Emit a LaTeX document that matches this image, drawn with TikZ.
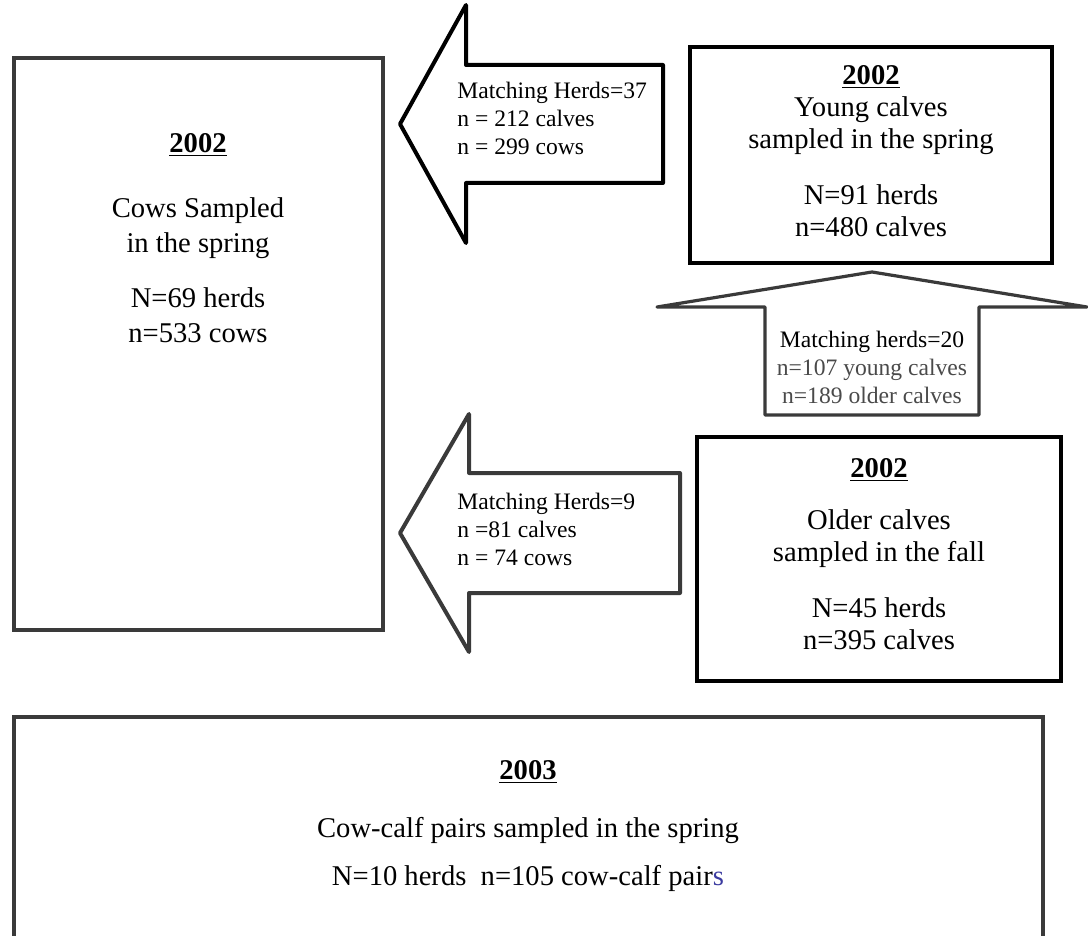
\documentclass[tikz,border=0pt]{standalone}
\usepackage{fontspec}
\setmainfont{Liberation Serif}
\definecolor{edgegray}{HTML}{3A3A3A}
\definecolor{labelgray}{HTML}{4A4A4A}
\definecolor{pairblue}{HTML}{3B3BA0}
\tikzset{
  samplebox/.style={line width=2pt, draw=black},
  blockarrow/.style={line width=2pt, draw=black, line join=round},
  boxtext/.style={align=center, inner sep=0pt, font=\fontsize{14.3}{16}\selectfont},
  arrowtext/.style={align=left, inner sep=0pt, font=\fontsize{11.8}{14}\selectfont}
}
\begin{document}
\begin{tikzpicture}[x=0.5pt, y=-0.5pt]
      \useasboundingbox (0,0) rectangle (1088,936);
      \draw[samplebox, draw=edgegray] (14,58) rectangle (383,630);
      \draw[samplebox] (690,47) rectangle (1052,263);
      \draw[samplebox] (697,437) rectangle (1061,681);
      \draw[samplebox, draw=edgegray] (14,940) -- (14,717) -- (1043,717) -- (1043,940);
      \begin{scope}[blockarrow]
        \draw (400,124) -- (466,5) -- (466,65) -- (663,65) -- (663,183) -- (466,183) -- (466,243) -- cycle;
        \draw[draw=edgegray] (400,533) -- (469,414) -- (469,473) -- (680,473) -- (680,593) -- (469,593) -- (469,652) -- cycle;
        \draw[draw=edgegray, line width=1.6pt] (872,272) -- (1087,307) -- (979,307) -- (979,415) -- (765,415) -- (765,307) -- (657,307) -- cycle;
      \end{scope}
      \node[boxtext, font=\fontsize{14.3}{17.5}\selectfont] (cows) at (198,238)
        {\underline{\textbf{2002}}\\[15pt] Cows Sampled\\ in the spring\\[10pt] N=69 herds\\ n=533 cows};
      \node[boxtext] (young) at (871,151)
        {\underline{\textbf{2002}}\\ Young calves\\ sampled in the spring\\[12pt] N=91 herds\\ n=480 calves};
      \node[boxtext] (older) at (879,554)
        {\underline{\textbf{2002}}\\[10pt] Older calves\\ sampled in the fall\\[12pt] N=45 herds\\ n=395 calves};
      \node[boxtext, font=\fontsize{14.3}{17}\selectfont] (pairs) at (528,826)
        {\underline{\textbf{2003}}\\[12pt] Cow-calf pairs sampled in the spring\\[7pt] N=10 herds\ \ n=105 cow-calf pair\textcolor{pairblue}{s}};
      \node[arrowtext, anchor=west] (springmatch) at (457,118)
        {Matching Herds=37\\ n = 212 calves\\ n = 299 cows};
      \node[arrowtext, anchor=west] (fallmatch) at (457,529)
        {Matching Herds=9\\ n =81 calves\\ n = 74 cows};
      \node[arrowtext, align=center] (calfmatch) at (872,367)
        {Matching herds=20\\ \textcolor{labelgray}{n=107 young calves}\\ \textcolor{labelgray}{n=189 older calves}};
    \end{tikzpicture}
\end{document}
